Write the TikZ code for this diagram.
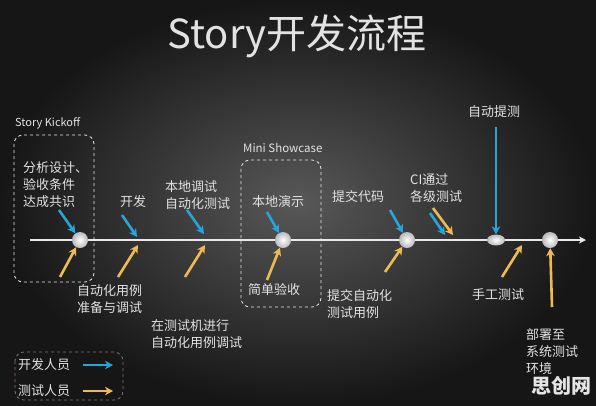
\documentclass[tikz,border=0pt]{standalone}
\usepackage{fontspec}
\setmainfont{Noto Sans CJK SC}
\usepackage{tikz}
\usetikzlibrary{arrows.meta,shapes.geometric}

\definecolor{devblue}{RGB}{38,166,216}
\definecolor{testorange}{RGB}{238,186,84}
\definecolor{chalk}{RGB}{226,226,226}
\definecolor{bgin}{RGB}{88,88,88}
\definecolor{bgout}{RGB}{22,22,22}
\definecolor{legendred}{RGB}{140,110,112}

\tikzset{
  lbl/.style={text=chalk, font=\fontsize{13}{17}\selectfont, align=left, inner sep=0pt},
  dev/.style={->, draw=devblue, line width=2.6pt},
  tst/.style={->, draw=testorange, line width=2.6pt},
  stage/.style={draw=chalk!85, dashed, rounded corners=9pt, line width=0.8pt},
  milestone/.style={circle, shade, inner color=white, outer color=gray!55, minimum size=16pt, inner sep=0pt},
}

\begin{document}
\begin{tikzpicture}[x=1pt, y=-1pt, >={Stealth[length=8pt,width=8.5pt,inset=2.5pt]}]
    % Background
    \shade [inner color=bgin, outer color=bgout] (0,0) rectangle (596,405);
    \useasboundingbox (0,0) rectangle (596,405);

    % Title
    \node [text=chalk, font=\fontsize{40}{44}\selectfont, inner sep=0pt] (title) at (297,36) {Story开发流程};

    % Timeline and milestones
    \coordinate (start) at (30,240);
    \coordinate (end)   at (586,240);
    \draw [-{Stealth[length=7pt,width=7pt,inset=2pt]}, draw=chalk!75, line width=2pt] (start) -- (end);

    \node [milestone] 		(kickoff)  at (80,240)  {};
    \node [milestone] 		(showcase) at (283,240) {};
    \node [milestone] 		(commit)   at (407,240) {};
    \node [milestone, ellipse, minimum width=18pt, minimum height=11pt] (submit) at (496,240) {};
    \node [milestone] 		(deploy)   at (550,240) {};

    % Stage frames
    \node [lbl, anchor=west, font=\fontsize{11}{13}\selectfont] (kicklbl) at (15,123) {Story Kickoff};
    \node [lbl, anchor=west, font=\fontsize{11.5}{13}\selectfont] (minilbl) at (243,148) {Mini Showcase};
    \draw [stage] (14,135) rectangle (94,282);
    \draw [stage] (241,160) rectangle (321,307);

    % Labels above the line
    \node [lbl, anchor=west] (analyse)    at (23,185)  {分析设计、\\验收条件\\达成共识};
    \node [lbl]              (develop)    at (133,202) {开发};
    \node [lbl, anchor=west] (localdbg)   at (165,195) {本地调试\\自动化测试};
    \node [lbl, anchor=west] (demo)       at (252,202) {本地演示};
    \node [lbl, anchor=west] (commitcode) at (332,197) {提交代码};
    \node [lbl, anchor=west] (cipass)     at (410,188) {CI通过\\各级测试};
    \node [lbl]              (autosubmit) at (494,112) {自动提测};

    % Labels below the line
    \node [lbl, anchor=west] (prepare)    at (77,299)  {自动化用例\\准备与调试};
    \node [lbl, anchor=west] (machine)    at (151,334) {在测试机进行\\自动化用例调试};
    \node [lbl, anchor=west] (accept)     at (248,290) {简单验收};
    \node [lbl, anchor=west] (submitcase) at (327,304) {提交自动化\\测试用例};
    \node [lbl, anchor=west] (manual)     at (472,295) {手工测试};
    \node [lbl, anchor=west] (deployenv)  at (526,352) {部署至\\系统测试\\环境};

    % Arrow ends
    \coordinate (d1) at (59,210);   \coordinate (d2) at (122,215);  \coordinate (d2e) at (137,237);
    \coordinate (d3) at (187,210);  \coordinate (d3e) at (204,234);
    \coordinate (d4) at (267,212);  \coordinate (d5) at (390,210);
    \coordinate (d6) at (430,213);  \coordinate (d6e) at (445,235);
    \coordinate (d7) at (496,127);
    \coordinate (t1) at (60,277);   \coordinate (t2) at (118,277);  \coordinate (t2e) at (138,245);
    \coordinate (t3) at (185,277);  \coordinate (t3e) at (205,245);
    \coordinate (t4) at (267,280);  \coordinate (t5) at (385,272);
    \coordinate (t6) at (433,208);  \coordinate (t6e) at (453,235);
    \coordinate (t7) at (502,277);  \coordinate (t7e) at (522,245);
    \coordinate (t8) at (552,307);

    % Developer arrows
    \draw [dev] (d1) -- (kickoff);
    \draw [dev] (d2) -- (d2e);
    \draw [dev] (d3) -- (d3e);
    \draw [dev] (d4) -- (showcase);
    \draw [dev] (d5) -- (commit);
    \draw [dev] (d6) -- (d6e);
    \draw [dev] (d7) -- (submit);

    % Tester arrows
    \draw [tst] (t1) -- (kickoff);
    \draw [tst] (t2) -- (t2e);
    \draw [tst] (t3) -- (t3e);
    \draw [tst] (t4) -- (showcase);
    \draw [tst] (t5) -- (commit);
    \draw [tst] (t6) -- (t6e);
    \draw [tst] (t7) -- (t7e);
    \draw [tst] (t8) -- (deploy);

    % Legend
    \draw [stage, draw=legendred] (15,352) rectangle (123,400);
    \node [lbl, anchor=west] (devlegend)  at (18,365) {开发人员};
    \node [lbl, anchor=west] (testlegend) at (18,391) {测试人员};
    \coordinate (devtail)  at (83,365);  \coordinate (devtip)  at (113,365);
    \coordinate (testtail) at (83,391);  \coordinate (testtip) at (113,391);
    \draw [dev] (devtail)  -- (devtip);
    \draw [tst] (testtail) -- (testtip);

    % Watermark
    \node [text=chalk!90, font=\fontsize{20}{22}\selectfont\bfseries, inner sep=0pt] (mark) at (561,386) {思创网};
\end{tikzpicture}
\end{document}
